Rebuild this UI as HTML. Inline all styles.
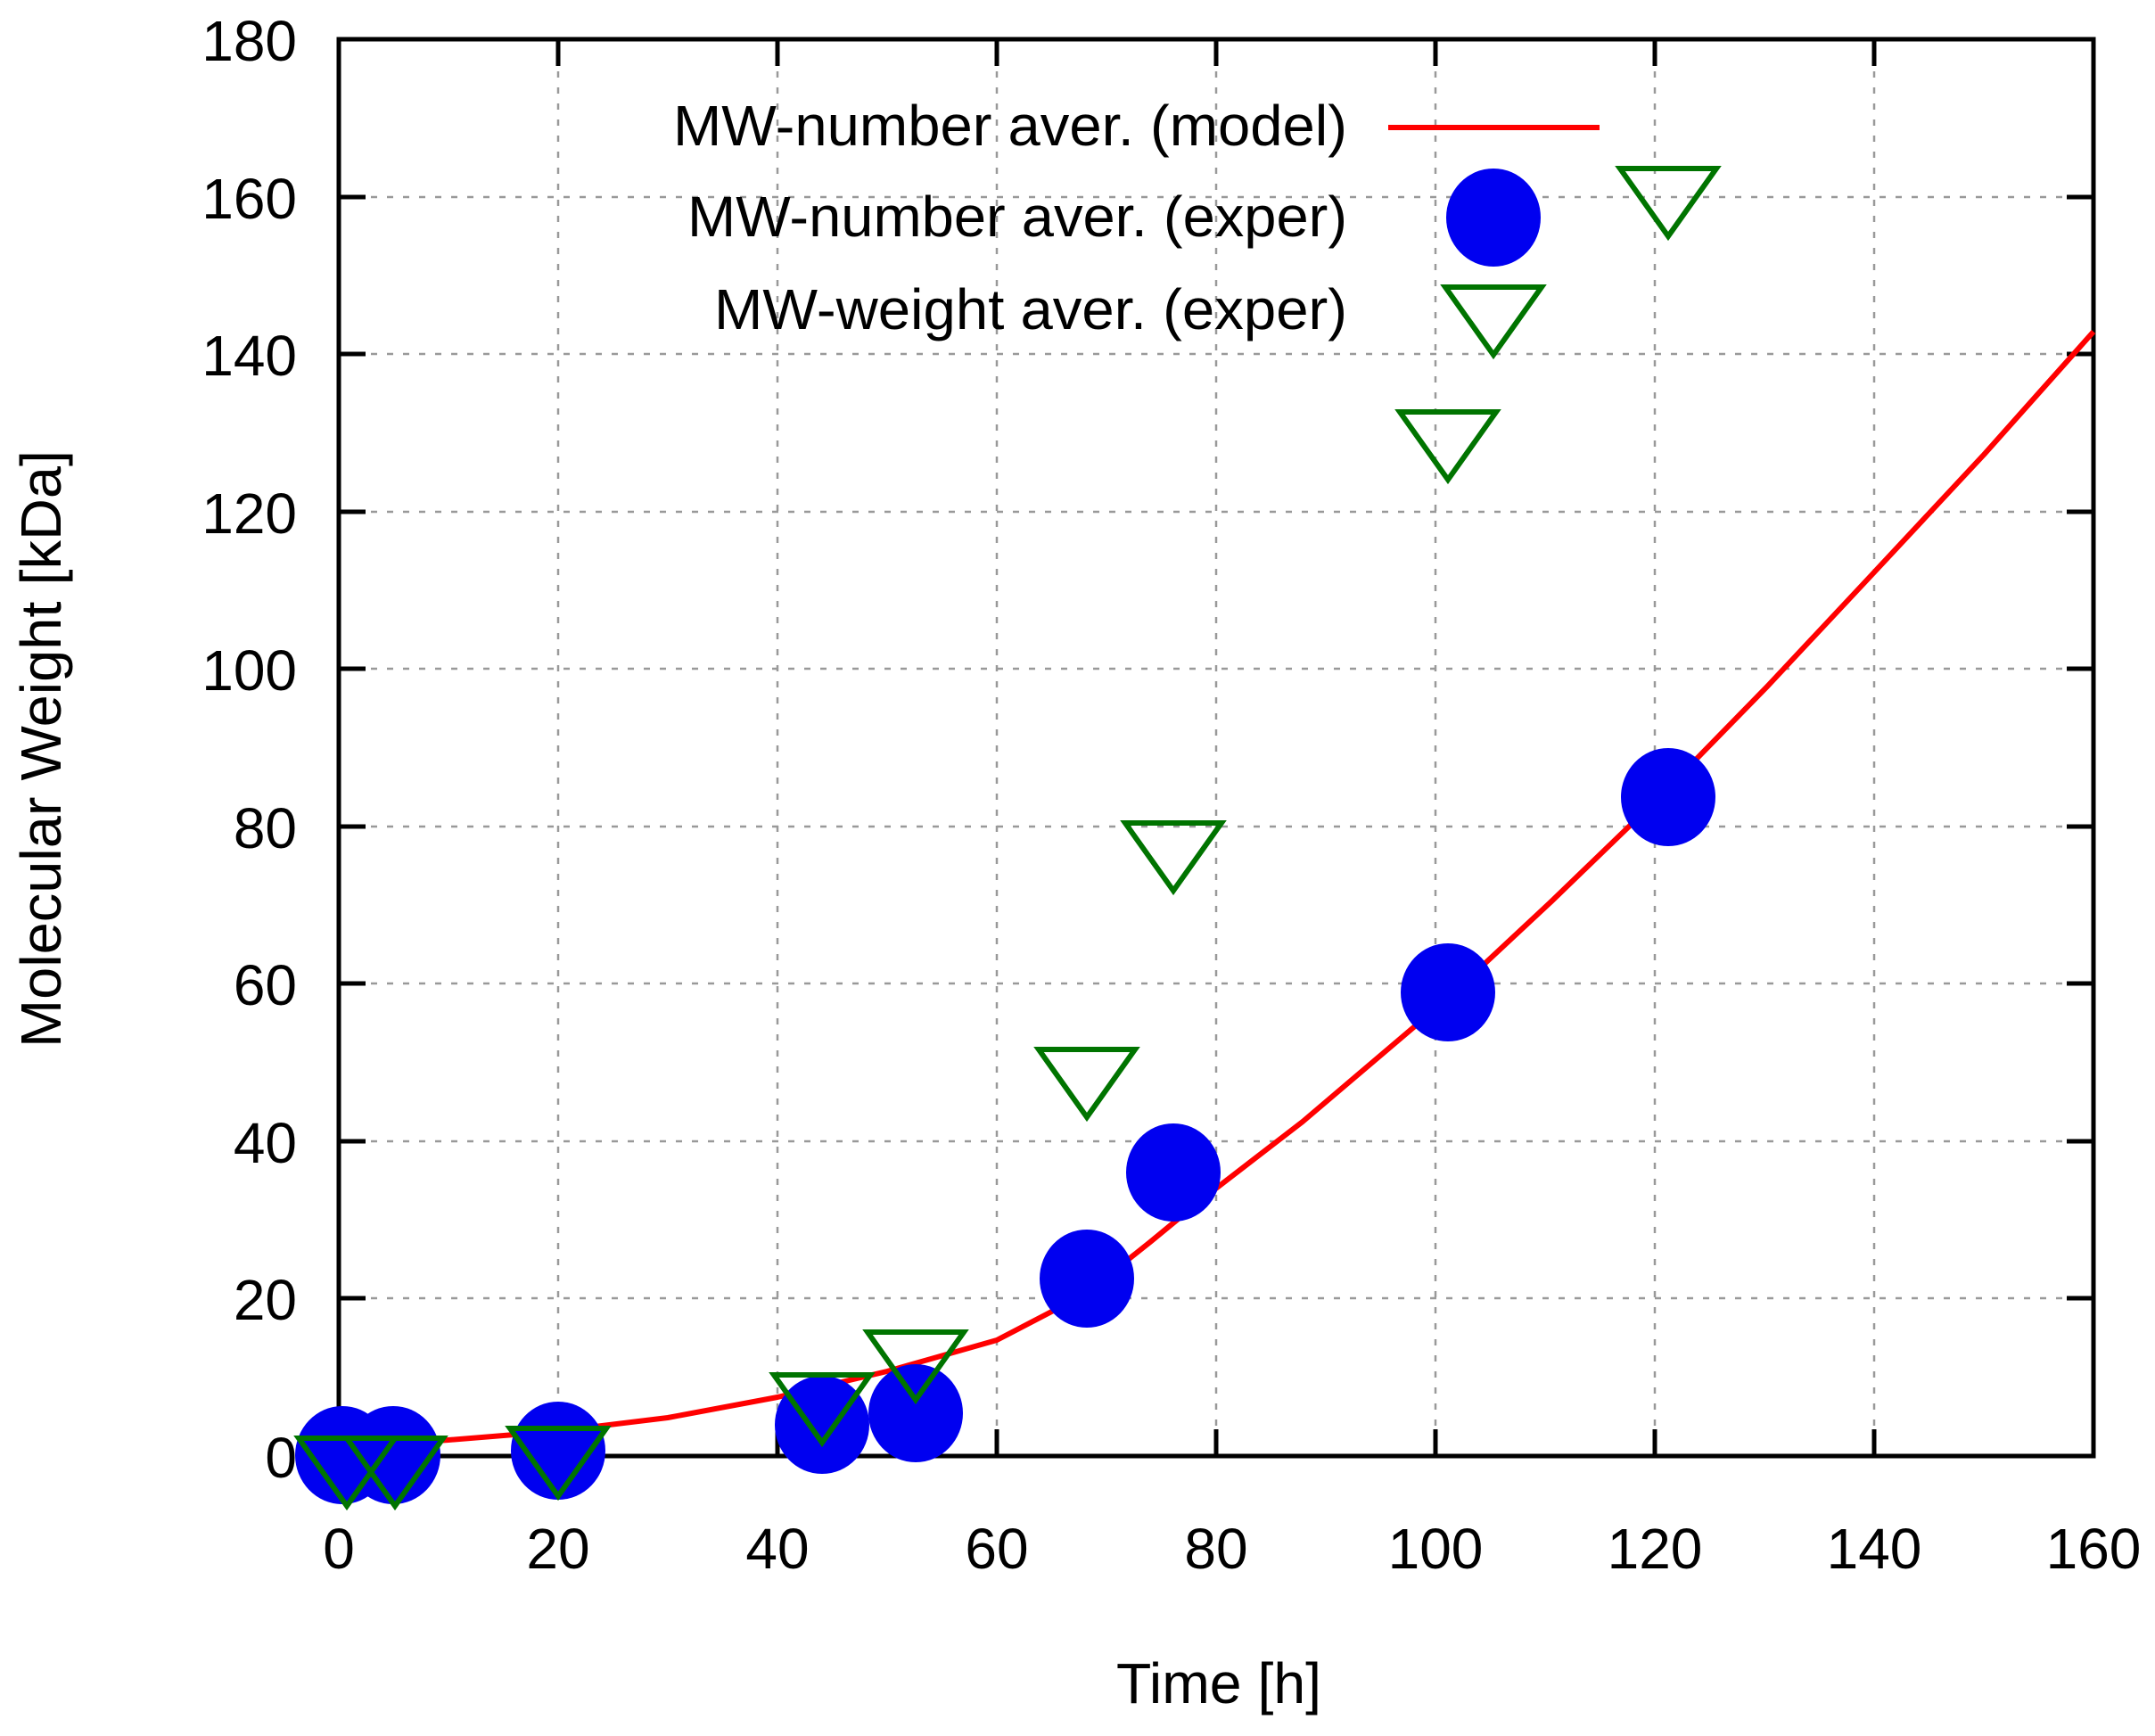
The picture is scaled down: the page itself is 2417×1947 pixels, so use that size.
<!DOCTYPE html>
<html><head><meta charset="utf-8"><style>body{margin:0;background:#fff}</style></head>
<body>
<svg width="2417" height="1942" viewBox="0 0 2417 1942" xmlns="http://www.w3.org/2000/svg" font-family="Liberation Sans, sans-serif">
<g stroke="#999" stroke-width="2.5" stroke-dasharray="7,11">
<line x1="626" y1="44" x2="626" y2="1633"/><line x1="872" y1="44" x2="872" y2="1633"/><line x1="1118" y1="44" x2="1118" y2="1633"/><line x1="1364" y1="44" x2="1364" y2="1633"/><line x1="1610" y1="44" x2="1610" y2="1633"/><line x1="1856" y1="44" x2="1856" y2="1633"/><line x1="2102" y1="44" x2="2102" y2="1633"/>
<line x1="380" y1="1456" x2="2348" y2="1456"/><line x1="380" y1="1280" x2="2348" y2="1280"/><line x1="380" y1="1103" x2="2348" y2="1103"/><line x1="380" y1="927" x2="2348" y2="927"/><line x1="380" y1="750" x2="2348" y2="750"/><line x1="380" y1="574" x2="2348" y2="574"/><line x1="380" y1="397" x2="2348" y2="397"/><line x1="380" y1="221" x2="2348" y2="221"/>
</g>
<g stroke="#000" stroke-width="5">
<path d="M626 1633v-30M872 1633v-30M1118 1633v-30M1364 1633v-30M1610 1633v-30M1856 1633v-30M2102 1633v-30M626 44v30M872 44v30M1118 44v30M1364 44v30M1610 44v30M1856 44v30M2102 44v30"/>
<path d="M380 1456h30M380 1280h30M380 1103h30M380 927h30M380 750h30M380 574h30M380 397h30M380 221h30M2348 1456h-30M2348 1280h-30M2348 1103h-30M2348 927h-30M2348 750h-30M2348 574h-30M2348 397h-30M2348 221h-30"/>
</g>
<rect x="380" y="44" width="1968" height="1589" fill="none" stroke="#000" stroke-width="5"/>
<g font-size="64" text-anchor="end" fill="#000">
<text x="333" y="1657">0</text><text x="333" y="1480">20</text><text x="333" y="1304">40</text><text x="333" y="1127">60</text><text x="333" y="951">80</text><text x="333" y="774">100</text><text x="333" y="598">120</text><text x="333" y="421">140</text><text x="333" y="245">160</text><text x="333" y="68">180</text>
</g>
<g font-size="64" text-anchor="middle" fill="#000">
<text x="380" y="1759">0</text><text x="626" y="1759">20</text><text x="872" y="1759">40</text><text x="1118" y="1759">60</text><text x="1364" y="1759">80</text><text x="1610" y="1759">100</text><text x="1856" y="1759">120</text><text x="2102" y="1759">140</text><text x="2348" y="1759">160</text>
<text x="1367" y="1910" textLength="230" lengthAdjust="spacingAndGlyphs">Time [h]</text>
<text transform="translate(68,840) rotate(-90)" textLength="670" lengthAdjust="spacingAndGlyphs">Molecular Weight [kDa]</text>
</g>
<polyline fill="none" stroke="#f00" stroke-width="6" stroke-linejoin="round" points="380,1624 503,1615 626,1605 749,1590 872,1567 995,1538 1118,1503 1216,1452 1290,1393 1352,1342 1461,1258 1621,1122 1740,1011 1856,899 1982,770 2100,644 2225,510 2348,372"/>
<g fill="#0000f0">
<ellipse cx="384" cy="1632" rx="53" ry="55"/><ellipse cx="441" cy="1632" rx="53" ry="55"/><ellipse cx="626" cy="1627" rx="53" ry="55"/><ellipse cx="922" cy="1598" rx="53" ry="55"/><ellipse cx="1027" cy="1585" rx="53" ry="55"/><ellipse cx="1219" cy="1434" rx="53" ry="55"/><ellipse cx="1316" cy="1315" rx="53" ry="55"/><ellipse cx="1624" cy="1113" rx="53" ry="55"/><ellipse cx="1871" cy="894" rx="53" ry="55"/><ellipse cx="1675" cy="244" rx="53" ry="55"/>
</g>
<g fill="none" stroke="#007400" stroke-width="6">
<path d="M335 1613h108l-54 76z"/><path d="M389 1613h108l-54 76z"/><path d="M572 1602h108l-54 76z"/><path d="M868 1542h108l-54 76z"/><path d="M973 1494h108l-54 76z"/><path d="M1165 1177h108l-54 76z"/><path d="M1262 923h108l-54 76z"/><path d="M1570 462h108l-54 76z"/><path d="M1817 189h108l-54 76z"/><path d="M1621 322h108l-54 76z"/>
</g>
<g font-size="64" text-anchor="end" fill="#000">
<text x="1511" y="163" textLength="756" lengthAdjust="spacingAndGlyphs">MW-number aver. (model)</text>
<text x="1511" y="265" textLength="740" lengthAdjust="spacingAndGlyphs">MW-number aver. (exper)</text>
<text x="1511" y="369" textLength="710" lengthAdjust="spacingAndGlyphs">MW-weight aver. (exper)</text>
</g>
<line x1="1557" y1="143" x2="1794" y2="143" stroke="#f00" stroke-width="6"/>
</svg>
</body></html>
